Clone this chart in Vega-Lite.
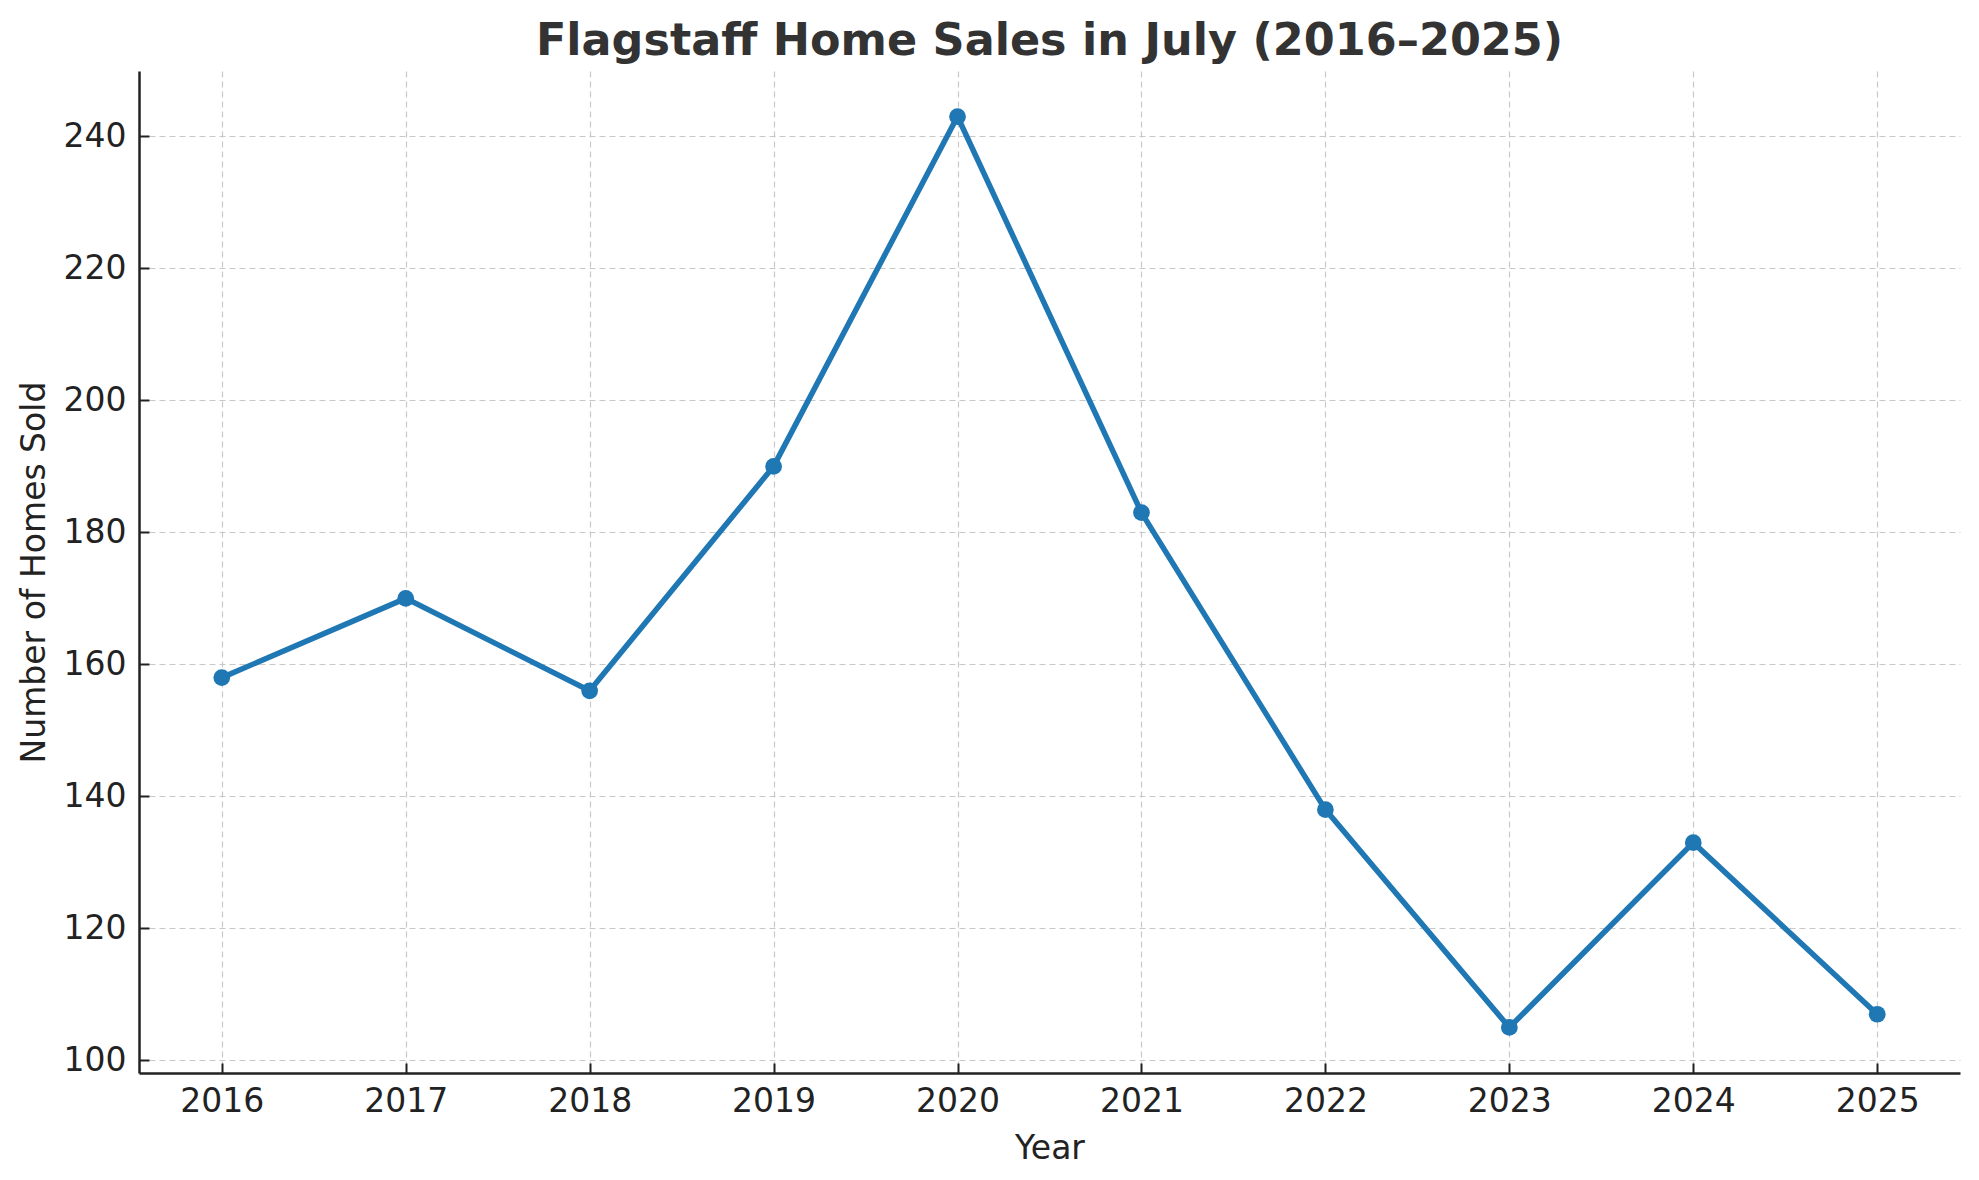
{
  "$schema": "https://vega.github.io/schema/vega-lite/v6.json",
  "width": 1821,
  "height": 1002,
  "autosize": {"type": "none"},
  "padding": {"left": 139, "top": 71, "right": 19, "bottom": 107},
  "background": "white",
  "title": {
    "text": "Flagstaff Home Sales in July (2016–2025)",
    "font": "DejaVu Sans",
    "fontSize": 44.5,
    "fontWeight": "bold",
    "color": "#333333",
    "anchor": "middle",
    "baseline": "alphabetic",
    "offset": -28
  },
  "data": {
    "values": [
      {"Year": 2016, "Homes": 158},
      {"Year": 2017, "Homes": 170},
      {"Year": 2018, "Homes": 156},
      {"Year": 2019, "Homes": 190},
      {"Year": 2020, "Homes": 243},
      {"Year": 2021, "Homes": 183},
      {"Year": 2022, "Homes": 138},
      {"Year": 2023, "Homes": 105},
      {"Year": 2024, "Homes": 133},
      {"Year": 2025, "Homes": 107}
    ]
  },
  "config": {
    "view": {"stroke": null},
    "axis": {
      "labelFont": "DejaVu Sans",
      "labelFontSize": 33,
      "labelColor": "#222222",
      "titleFont": "DejaVu Sans",
      "titleFontSize": 33,
      "titleFontWeight": "normal",
      "titleColor": "#222222",
      "domainColor": "#222222",
      "domainWidth": 2.5,
      "tickColor": "#222222",
      "tickWidth": 2,
      "tickSize": -10,
      "gridColor": "#c8c8c8",
      "gridDash": [6, 4],
      "gridWidth": 1.2
    }
  },
  "encoding": {
    "x": {
      "field": "Year",
      "type": "quantitative",
      "scale": {"domain": [2015.55, 2025.45], "nice": false, "zero": false},
      "axis": {
        "title": "Year",
        "values": [2016, 2017, 2018, 2019, 2020, 2021, 2022, 2023, 2024, 2025],
        "format": "d",
        "labelPadding": 22,
        "titlePadding": 14
      }
    },
    "y": {
      "field": "Homes",
      "type": "quantitative",
      "scale": {"domain": [98.1, 249.9], "nice": false, "zero": false},
      "axis": {
        "title": "Number of Homes Sold",
        "values": [100, 120, 140, 160, 180, 200, 220, 240],
        "labelPadding": 23,
        "titlePadding": 12
      }
    }
  },
  "layer": [
    {"mark": {"type": "line", "color": "#1f77b4", "strokeWidth": 5.5}},
    {"mark": {"type": "point", "filled": true, "size": 280, "color": "#1f77b4", "opacity": 1}}
  ]
}
